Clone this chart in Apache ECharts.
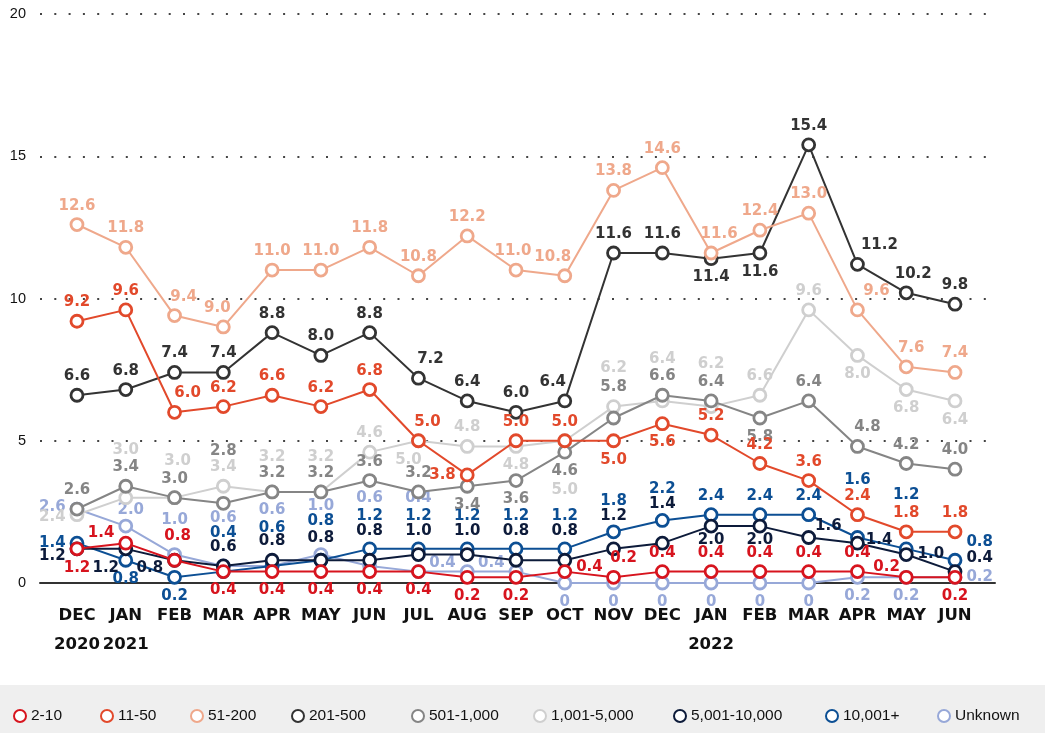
<!DOCTYPE html>
<html>
<head>
<meta charset="utf-8">
<script src="https://cdn.jsdelivr.net/npm/echarts@6/dist/echarts.min.js"></script>
<style>
  html, body { margin: 0; padding: 0; background: #fff; }
  #chart { width: 1045px; height: 733px; }
</style>
</head>
<body>
<div id="chart"></div>
<script>
const months = ['DEC', 'JAN', 'FEB', 'MAR', 'APR', 'MAY', 'JUN', 'JUL', 'AUG', 'SEP', 'OCT', 'NOV', 'DEC', 'JAN', 'FEB', 'MAR', 'APR', 'MAY', 'JUN']
const years = ['2020', '2021', '', '', '', '', '', '', '', '', '', '', '', '2022', '', '', '', '', '']
const yTicks = [0, 5, 10, 15, 20]

const names = ['2-10', '11-50', '51-200', '201-500', '501-1,000', '1,001-5,000', '5,001-10,000', '10,001+', 'Unknown']

const size2to10 = [1.2, 1.4, 0.8, 0.4, 0.4, 0.4, 0.4, 0.4, 0.2, 0.2, 0.4, 0.2, 0.4, 0.4, 0.4, 0.4, 0.4, 0.2, 0.2]
const size11to50 = [9.2, 9.6, 6.0, 6.2, 6.6, 6.2, 6.8, 5.0, 3.8, 5.0, 5.0, 5.0, 5.6, 5.2, 4.2, 3.6, 2.4, 1.8, 1.8]
const size51to200 = [12.6, 11.8, 9.4, 9.0, 11.0, 11.0, 11.8, 10.8, 12.2, 11.0, 10.8, 13.8, 14.6, 11.6, 12.4, 13.0, 9.6, 7.6, 7.4]
const size201to500 = [6.6, 6.8, 7.4, 7.4, 8.8, 8.0, 8.8, 7.2, 6.4, 6.0, 6.4, 11.6, 11.6, 11.4, 11.6, 15.4, 11.2, 10.2, 9.8]
const size501to1000 = [2.6, 3.4, 3.0, 2.8, 3.2, 3.2, 3.6, 3.2, 3.4, 3.6, 4.6, 5.8, 6.6, 6.4, 5.8, 6.4, 4.8, 4.2, 4.0]
const size1001to5000 = [2.4, 3.0, 3.0, 3.4, 3.2, 3.2, 4.6, 5.0, 4.8, 4.8, 5.0, 6.2, 6.4, 6.2, 6.6, 9.6, 8.0, 6.8, 6.4]
const size5001to10000 = [1.2, 1.2, 0.8, 0.6, 0.8, 0.8, 0.8, 1.0, 1.0, 0.8, 0.8, 1.2, 1.4, 2.0, 2.0, 1.6, 1.4, 1.0, 0.4]
const size10001plus = [1.4, 0.8, 0.2, 0.4, 0.6, 0.8, 1.2, 1.2, 1.2, 1.2, 1.2, 1.8, 2.2, 2.4, 2.4, 2.4, 1.6, 1.2, 0.8]
const sizeUnknown = [2.6, 2.0, 1.0, 0.6, 0.6, 1.0, 0.6, 0.4, 0.4, 0.4, 0, 0, 0, 0, 0, 0, 0.2, 0.2, 0.2]

const values = [size2to10, size11to50, size51to200, size201to500, size501to1000, size1001to5000, size5001to10000, size10001plus, sizeUnknown]
const colors = ['#d7141e', '#e2492b', '#efa88b', '#333333', '#858585', '#cfcfcf', '#0d1b3a', '#0c4f94', '#97a8d8']

// label placement: default position + overrides {index: [position, dx, dy]}
const labelPlace = [
  { def: 'top', at: { 0: ['bottom'], 1: ['left', 0, -10], 2: ['top', 3, -5], 3: ['bottom'], 4: ['bottom'], 5: ['bottom'], 6: ['bottom'], 7: ['bottom'], 8: ['bottom'], 9: ['bottom'], 10: ['right', 0, -5], 11: ['top', 10, 0], 17: ['left', 5, -10], 18: ['bottom'] } },
  { def: 'top', at: { 2: ['top', 13, 0], 7: ['top', 9, 0], 8: ['left'], 11: ['bottom'], 12: ['bottom'] } },
  { def: 'top', at: { 2: ['top', 9, 0], 3: ['top', -6, 0], 9: ['top', -3, 0], 10: ['top', -12, 0], 13: ['top', 8, 0], 16: ['top', 19, 0], 17: ['top', 5, 0] } },
  { def: 'top', at: { 7: ['top', 12, 0], 10: ['top', -12, 0], 13: ['bottom'], 14: ['bottom'], 16: ['top', 22, 0], 17: ['top', 7, 0] } },
  { def: 'top', at: { 3: ['top', 0, -33], 8: ['bottom'], 9: ['bottom'], 10: ['bottom'], 11: ['top', 0, -12], 14: ['bottom'], 16: ['top', 10, 0] } },
  { def: 'top', at: { 0: ['left', 0, 2], 1: ['top', 0, -29], 2: ['top', 3, -18], 4: ['top', 0, -16], 5: ['top', 0, -16], 7: ['bottom', -10, 0], 9: ['bottom'], 10: ['bottom', 0, 30], 11: ['top', 0, -20], 12: ['top', 0, -23], 13: ['top', 0, -24], 16: ['bottom'], 17: ['bottom'], 18: ['bottom'] } },
  { def: 'top', at: { 0: ['left', 0, 7], 1: ['bottom', -20, 0], 2: ['left', 0, 8], 5: ['top', 0, -3], 6: ['top', 0, -10], 7: ['top', 0, -5], 8: ['top', 0, -5], 9: ['top', 0, -10], 10: ['top', 0, -10], 11: ['top', 0, -14], 12: ['top', 0, -20], 13: ['bottom', 0, -5], 14: ['bottom', 0, -5], 15: ['right', -5, -11], 16: ['right', -3, -3], 17: ['right'], 18: ['right', 0, -14] } },
  { def: 'top', at: { 0: ['left'], 1: ['bottom'], 2: ['bottom'], 3: ['top', 0, -20], 4: ['top', 0, -19], 5: ['top', 0, -20], 6: ['top', 0, -14], 7: ['top', 0, -14], 8: ['top', 0, -14], 9: ['top', 0, -14], 10: ['top', 0, -14], 11: ['top', 0, -12], 12: ['top', 0, -12], 16: ['top', 0, -38], 17: ['top', 0, -35], 18: ['right', 0, -18] } },
  { def: 'bottom', at: { 0: ['left', 0, -2], 1: ['top', 5, 3], 2: ['top', 0, -16], 3: ['top', 0, -29], 4: ['top', 0, -37], 5: ['top', 0, -30], 6: ['top', 0, -49], 7: ['top', 0, -55], 8: ['left', 0, -9], 9: ['left', 0, -9], 18: ['right'] } }
]
const legendLefts = [8, 95, 185, 286, 406, 528, 668, 820, 932]

const labelFont = 'DejaVu Sans'

const chart = echarts.init(document.getElementById('chart'))

const series = names.map((name, k) => {
  const place = labelPlace[k]
  return {
    name: name,
    type: 'line',
    z: 20 - k,
    symbol: 'circle',
    symbolSize: 12,
    lineStyle: { color: colors[k], width: 2 },
    itemStyle: { color: '#fff', borderColor: colors[k], borderWidth: 2.8 },
    emphasis: { disabled: true },
    label: {
      show: true,
      fontFamily: labelFont,
      fontWeight: 'bold',
      fontSize: 15,
      color: colors[k],
      distance: 4,
      formatter: (p) => (p.value[1] === 0 ? '0' : p.value[1].toFixed(1))
    },
    data: values[k].map((v, i) => {
      const o = place.at[i] || [place.def]
      return {
        value: [i, v],
        label: { position: o[0], offset: [o[1] || 0, o[2] || 0] }
      }
    })
  }
})

const legends = names.map((name, k) => ({
  data: [name],
  left: legendLefts[k],
  top: 703,
  icon: 'circle',
  itemWidth: 12,
  itemHeight: 12,
  itemGap: 0,
  selectedMode: false,
  textStyle: { fontFamily: 'Liberation Sans', fontSize: 15.5, color: '#111' }
}))

const option = {
  animation: false,
  backgroundColor: '#fff',
  graphic: [
    { type: 'rect', left: 0, top: 685, z: 0, shape: { width: 1045, height: 48 }, style: { fill: '#efefef' } }
  ],
  legend: legends,
  grid: { left: 40, right: 50, top: 14, bottom: 150, containLabel: false },
  xAxis: {
    type: 'value',
    min: -0.758,
    max: 18.82,
    axisLine: { show: true, lineStyle: { color: '#333', width: 2 } },
    axisTick: { show: false },
    splitLine: { show: false },
    axisLabel: {
      customValues: months.map((m, i) => i),
      formatter: (v) => months[v] + (years[v] ? '\n' + years[v] : ''),
      fontFamily: labelFont,
      fontWeight: 'bold',
      fontSize: 16.5,
      color: '#111',
      lineHeight: 29,
      margin: 18
    }
  },
  yAxis: {
    type: 'value',
    min: yTicks[0],
    max: yTicks[yTicks.length - 1],
    interval: 5,
    axisLine: { show: false },
    axisTick: { show: false },
    axisLabel: { fontFamily: 'Liberation Sans', fontSize: 14.5, color: '#111', margin: 14 },
    splitLine: { show: true, lineStyle: { color: '#444', width: 2, type: [2, 12.3] } }
  },
  series: series
}

chart.setOption(option)
</script>
</body>
</html>
